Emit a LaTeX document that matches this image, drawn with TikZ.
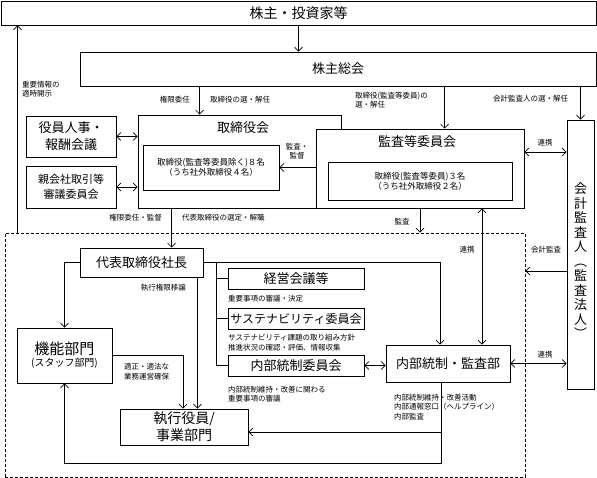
\documentclass[tikz,border=0pt]{standalone}
\usepackage{fontspec}
\setmainfont{Noto Sans CJK JP}
\usetikzlibrary{arrows.meta}

\begin{document}
\begin{tikzpicture}[
    x=1pt, y=-1pt,
    box/.style = {rectangle, draw=black, line width=0.8pt, fill=white, align=center, inner sep=0pt},
    big/.style = {font=\fontsize{13}{17}\selectfont},
    boxtext/.style = {font=\fontsize{8.5}{10}\selectfont},
    note/.style = {font=\fontsize{7.5}{9.5}\selectfont, align=left, inner sep=0pt},
    grpbox/.style = {rectangle, draw=black, line width=0.8pt, dash pattern=on 3pt off 2pt, inner sep=0pt},
    arrow/.style = {-{Straight Barb[length=4pt, width=8pt]}, line width=0.7pt},
    dblarrow/.style = {{Straight Barb[length=4pt, width=8pt]}-{Straight Barb[length=4pt, width=8pt]}, line width=0.7pt}
]

% Background
\fill[white] (0,0) rectangle (597,478);
\useasboundingbox (0,0) rectangle (597,478);

% Execution area
\node[grpbox, minimum width=520, minimum height=244] (grp) at (265,355) {};

% Shareholders
\node[box, font=\fontsize{14}{17}\selectfont, minimum width=595, minimum height=24] (share) at (298.5,13) {株主・投資家等};
\node[box, big, minimum width=516, minimum height=34] (gm) at (338,69) {株主総会};

% Board
\node[box, minimum width=203, minimum height=93] (board) at (239.5,161.5) {};
\node[big] (boardtitle) at (243,128) {取締役会};
\node[box, boxtext, minimum width=136, minimum height=45] (boardin) at (211,167.5) {取締役(監査等委員除く)８名\\（うち社外取締役４名）};

% Audit committee
\node[box, minimum width=208, minimum height=79] (audit) at (420,168.5) {};
\node[big] (audittitle) at (417,142) {監査等委員会};
\node[box, boxtext, minimum width=184, minimum height=38] (auditin) at (420,181) {取締役(監査等委員)３名\\（うち社外取締役２名）};

% Committees
\node[box, big, minimum width=90, minimum height=41] (hr) at (71,136.5) {役員人事・\\報酬会議};
\node[box, font=\fontsize{11}{15}\selectfont, minimum width=90, minimum height=42] (parent) at (71,187) {親会社取引等\\審議委員会};

% Accounting auditor
\node[box, minimum width=27, minimum height=269] (ext) at (580.5,254.5) {};
\node[font=\fontsize{13}{14.5}\selectfont, align=center] (exttext) at (580.5,261) {会\\計\\監\\査\\人\\︵\\監\\査\\法\\人\\︶};

% Execution
\node[box, big, minimum width=123, minimum height=29] (pres) at (141.5,262.5) {代表取締役社長};
\node[box, big, minimum width=136, minimum height=21] (meet) at (296,278.5) {経営会議等};
\node[box, font=\fontsize{12}{14}\selectfont, minimum width=136, minimum height=21] (sus) at (296,318.5) {サステナビリティ委員会};
\node[box, big, minimum width=136, minimum height=21] (icc) at (296,365.5) {内部統制委員会};
\node[box, big, minimum width=124, minimum height=37] (ica) at (448,363.5) {内部統制・監査部};
\node[box, minimum width=95, minimum height=55] (func) at (64.5,355.5) {{\fontsize{15}{17}\selectfont 機能部門}\\{\fontsize{10}{12}\selectfont (スタッフ部門)}};
\node[box, font=\fontsize{14}{17}\selectfont, minimum width=128, minimum height=36] (exec) at (184,427) {執行役員/\\事業部門};

% Arrows
\draw[arrow] (share.south) -- (share.south |- gm.north);
\draw[arrow] ([xshift=13pt]grp.north west) -- ([xshift=13pt]grp.north west |- share.south);
\draw[arrow] ([xshift=62pt]board.north west |- gm.south) -- ([xshift=62pt]board.north west);
\draw[arrow] ([xshift=129pt]audit.north west |- gm.south) -- ([xshift=129pt]audit.north west);
\draw[arrow] (ext.north |- gm.south) -- (ext.north);
\draw[dblarrow] (hr.east) -- (hr.east -| board.west);
\draw[dblarrow] (parent.east) -- (parent.east -| board.west);
\draw[arrow] (boardin.east -| audit.west) -- (boardin.east);
\draw[dblarrow] ([yshift=16.5pt]audit.east) -- ([yshift=16.5pt]audit.east -| ext.west);
\draw[arrow] ([xshift=34pt]board.south west) -- ([xshift=34pt]board.south west |- pres.north);
\draw[arrow] (audit.south) -- (audit.south |- grp.north);
\draw[dblarrow] ([xshift=34pt]ica.north) -- ([xshift=34pt]ica.north |- audit.south);
\draw[arrow] ([yshift=-16.5pt]ext.west) -- ([yshift=-16.5pt]ext.west -| grp.east);
\draw[dblarrow] (ica.east) -- (ica.east -| ext.west);
\draw[arrow] (pres.west) -| (func.north);
\draw[arrow] (pres.east) -| ([xshift=-8pt]ica.north);
\draw[line width=0.7pt] ([xshift=-11pt]meet.west |- pres.east) |- (icc.west);
\draw[line width=0.7pt] ([xshift=-11pt]meet.west) -- (meet.west);
\draw[line width=0.7pt] ([xshift=-11pt]sus.west) -- (sus.west);
\draw[arrow] ([xshift=-6pt]pres.south east) -- ([xshift=-6pt]pres.south east |- exec.north);
\draw[arrow] (func.east) -| ([xshift=-1pt]exec.north);
\draw[dblarrow] (icc.east) -- (icc.east -| ica.west);
\draw[arrow] ([xshift=-7pt]ica.south) |- ([yshift=-5pt]exec.east);
\draw[arrow] ([xshift=-7pt]ica.south) |- ([yshift=-18pt]func.south |- exec.south) -- (func.south);

% Labels
\node[note, anchor=west] at (22,89) {重要情報の\\適時開示};
\node[note, anchor=east] at (190,100) {権限委任};
\node[note, anchor=west] at (210,100) {取締役の選・解任};
\node[note, anchor=west] at (355,100) {取締役(監査等委員)の\\選・解任};
\node[note, anchor=west] at (493,99) {会計監査人の選・解任};
\node[note, align=center] at (297,151) {監査・\\監督};
\node[note] at (545,143) {連携};
\node[note, anchor=east] at (162,218) {権限委任・監督};
\node[note, anchor=west] at (182,218) {代表取締役の選定・解職};
\node[note] at (402,222) {監査};
\node[note] at (467,250) {連携};
\node[note] at (546,250) {会計監査};
\node[note] at (545,355) {連携};
\node[note, anchor=east] at (186,288) {執行権限移譲};
\node[note, anchor=west] at (228,299) {重要事項の審議・決定};
\node[note, anchor=west] at (228,342.5) {サステナビリティ課題の取り組み方針\\推進状況の確認・評価、情報収集};
\node[note, anchor=west] at (228,394) {内部統制維持・改善に関わる\\重要事項の審議};
\node[note, anchor=west] at (394,407) {内部統制維持・改善活動\\内部通報窓口（ヘルプライン）\\内部監査};
\node[note, anchor=west] at (124,371.5) {適正・適法な\\業務運営確保};

\end{tikzpicture}
\end{document}
